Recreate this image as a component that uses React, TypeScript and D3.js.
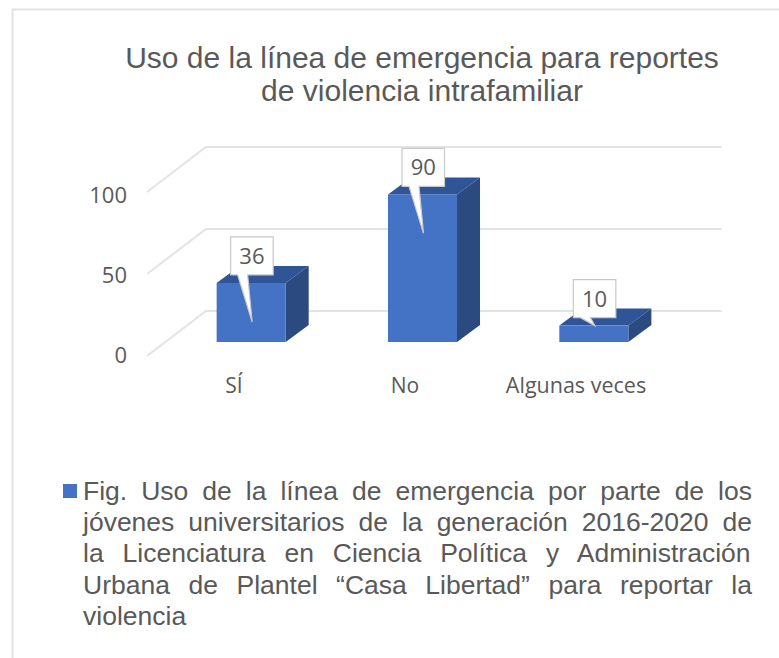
import React from "react";
import * as d3 from "d3";

const categories = ["SÍ", "No", "Algunas veces"];
const values = [36, 90, 10];
const yTicks = [0, 50, 100];
const titleLines = [
  "Uso de la línea de emergencia para reportes",
  "de violencia intrafamiliar",
];
const captionLines = [
  "Fig. Uso de la línea de emergencia por parte de los",
  "jóvenes universitarios de la generación 2016-2020 de",
  "la Licenciatura en Ciencia Política y Administración",
  "Urbana de Plantel “Casa Libertad” para reportar la",
  "violencia",
];

const W = 779;
const H = 658;
const DX = 23;
const DY = -17;
const FRONT = 342;
const UNIT_H = 164;
const TEXT = "#595959";
const SANS = "'Liberation Sans', Arial, sans-serif";
const LABEL = "'Open Sans', sans-serif";

function wordSpacing(line: string, font: string, width: number) {
  const ctx = document.createElement("canvas").getContext("2d")!;
  ctx.font = font;
  const gaps = line.split(" ").length - 1;
  return (width - ctx.measureText(line).width) / gaps;
}

export default function App() {
  const x = d3
    .scaleBand<string>()
    .domain(categories)
    .range([165.5, 679.5])
    .paddingInner(0.597)
    .paddingOuter(0.2985);
  const yBar = d3.scaleLinear().domain([0, 100]).range([FRONT, FRONT - UNIT_H]);
  const yBack = d3.scaleLinear().domain([0, 100]).range([311, 311 - UNIT_H]);
  const yFront = d3.scaleLinear().domain([0, 100]).range([356, 356 - UNIT_H]);
  const yTickLabel = d3.scaleLinear().domain([0, 100]).range([362.5, 202.5]);
  const poly = d3.line();
  const captionFont = `26.5px 'Liberation Sans'`;

  return (
    <svg
      width={W}
      height={H}
      viewBox={`0 0 ${W} ${H}`}
      style={{ position: "absolute", left: 0, top: 0, background: "#fff" }}
    >
      <path d={`M12.5 ${H}V9.5H${W}`} fill="none" stroke="#e2e2e2" strokeWidth={2} />

      {titleLines.map((t, i) => (
        <text key={t} x={422} y={68 + i * 33} textAnchor="middle" fontFamily={SANS} fontSize={30} fill={TEXT}>
          {t}
        </text>
      ))}

      {yTicks.map((t) => (
        <g key={t}>
          <path
            d={poly([
              [147, yFront(t)],
              [206, yBack(t)],
              [721.5, yBack(t)],
            ])!}
            fill="none"
            stroke="#e3e3e3"
            strokeWidth={2}
          />
          <text x={127} y={yTickLabel(t)} textAnchor="end" fontFamily={LABEL} fontSize={22} fill={TEXT}>
            {t}
          </text>
        </g>
      ))}

      {categories.map((c, i) => {
        const x0 = x(c)!;
        const x1 = x0 + x.bandwidth();
        const top = yBar(values[i]);
        return (
          <g key={c}>
            <path
              d={poly([
                [x0, top],
                [x0 + DX, top + DY],
                [x1 + DX, top + DY],
                [x1, top],
              ])! + "Z"}
              fill="#2F5597"
            />
            <path
              d={poly([
                [x1, top],
                [x1 + DX, top + DY],
                [x1 + DX, FRONT + DY],
                [x1, FRONT],
              ])! + "Z"}
              fill="#2A4A80"
            />
            <rect x={x0} y={top} width={x.bandwidth()} height={FRONT - top} fill="#4472C4" />
          </g>
        );
      })}

      {categories.map((c, i) => {
        const cx = x(c)! + x.bandwidth() / 2;
        const top = yBar(values[i]);
        const boxW = 42.5;
        const boxH = 38;
        const bx = cx - 20.5;
        const by = top - 46;
        const tipY = values[i] > 20 ? top + 39 : top;
        const d = `M${bx} ${by}H${bx + boxW}V${by + boxH}H${bx + 17}L${cx + 1} ${tipY}L${bx + 7} ${by + boxH}H${bx}Z`;
        return (
          <g key={c}>
            <path d={d} fill="#fff" stroke="#c9c9c9" strokeWidth={1.2} />
            <text x={bx + boxW / 2} y={by + 27} textAnchor="middle" fontFamily={LABEL} fontSize={22} fill={TEXT}>
              {values[i]}
            </text>
          </g>
        );
      })}

      <text x={234} y={393} textAnchor="middle" fontFamily={LABEL} fontSize={21} fill={TEXT}>
        {categories[0]}
      </text>
      <text x={405} y={393} textAnchor="middle" fontFamily={LABEL} fontSize={21} fill={TEXT}>
        {categories[1]}
      </text>
      <text x={576} y={393} textAnchor="middle" fontFamily={LABEL} fontSize={21.5} fill={TEXT}>
        {categories[2]}
      </text>

      <rect x={63} y={484} width={14} height={14} fill="#4472C4" />
      {captionLines.map((t, i) => (
        <text
          key={t}
          x={83}
          y={500 + i * 31.2}
          fontFamily={SANS}
          fontSize={26.5}
          fill={TEXT}
          style={{
            wordSpacing: i < captionLines.length - 1 ? wordSpacing(t, captionFont, 669) : 0,
          }}
        >
          {t}
        </text>
      ))}
    </svg>
  );
}
